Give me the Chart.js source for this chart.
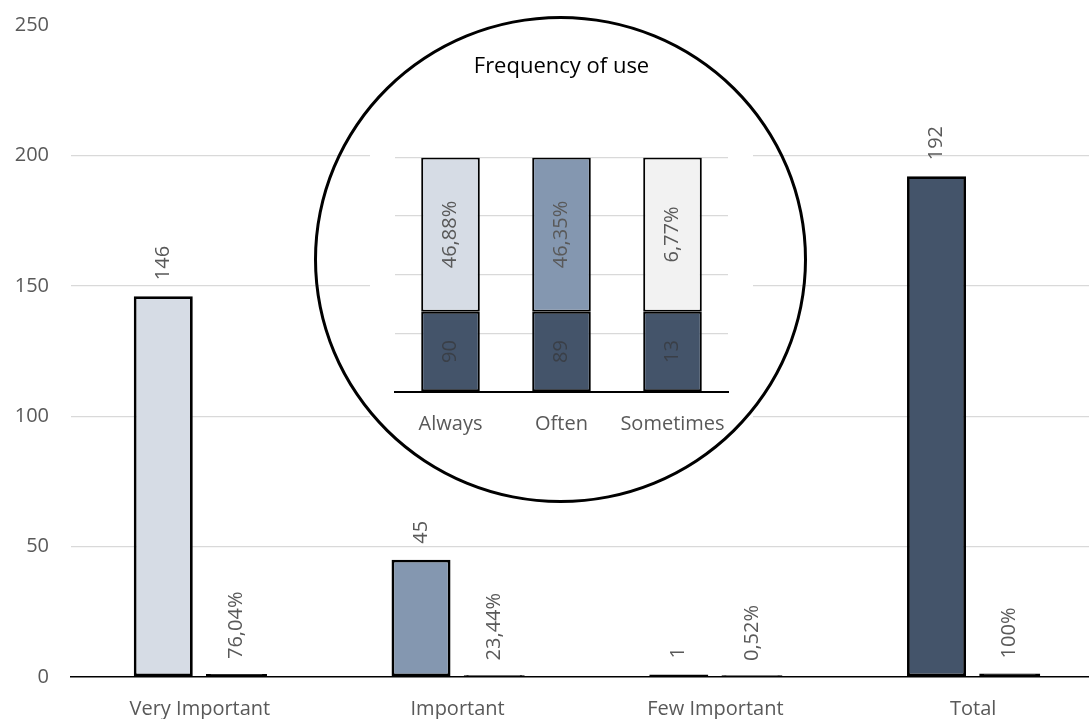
<!DOCTYPE html>
<html>
<head>
<meta charset="utf-8">
<script src="https://cdn.jsdelivr.net/npm/chart.js@4.4.1/dist/chart.umd.min.js"></script>
<style>
  html, body { margin: 0; padding: 0; background: #fff; overflow: hidden; width: 1089px; height: 719px; }
  #main { position: absolute; left: 0; top: 0; }
  #inset { position: absolute; left: 370px; top: 30px; background: #fff; }
  #ring {
    position: absolute; left: 314px; top: 16px; width: 493px; height: 487px;
    border: 3px solid #000; border-radius: 50%; box-sizing: border-box; pointer-events: none;
  }
</style>
</head>
<body>
<canvas id="main" width="1102" height="719"></canvas>
<canvas id="inset" width="383" height="430"></canvas>
<div id="ring"></div>
<script>
// Importance of the service: respondents per answer and their share of the total
const categories = ['Very Important', 'Important', 'Few Important', 'Total'];
const counts = [146, 45, 1, 192];
const shares = [0.7604, 0.2344, 0.0052, 1.0];
const yTicks = [0, 50, 100, 150, 200, 250];
const countColors = ['#d6dce5', '#8497b0', '#f2f2f2', '#44546a'];

// Frequency of use (inset)
const freqCategories = ['Always', 'Often', 'Sometimes'];
const freqCounts = [90, 89, 13];
const freqShares = [46.88, 46.35, 6.77];
const freqColors = ['#d6dce5', '#8497b0', '#f2f2f2'];

const FONT = "'Open Sans', 'DejaVu Sans', sans-serif";
Chart.defaults.font.family = FONT;

function fmtPct(v) {
  const p = Math.round(v * 10000) / 100;
  return (Number.isInteger(p) ? String(p) : p.toFixed(2).replace('.', ',')) + '%';
}
function fmtPlain(p) {
  return p.toFixed(2).replace('.', ',') + '%';
}

// Rotated value labels above each bar
const valueLabels = {
  id: 'valueLabels',
  afterDatasetsDraw(chart) {
    const ctx = chart.ctx;
    ctx.save();
    ctx.fillStyle = '#595959';
    ctx.font = '20px ' + FONT;
    chart.data.datasets.forEach((ds, di) => {
      chart.getDatasetMeta(di).data.forEach((el, i) => {
        const txt = di === 0 ? String(counts[i]) : fmtPct(shares[i]);
        ctx.save();
        ctx.translate(el.x, el.y - 16);
        ctx.rotate(-Math.PI / 2);
        ctx.textAlign = 'left';
        ctx.textBaseline = 'middle';
        ctx.fillText(txt, 0, 0);
        ctx.restore();
      });
    });
    ctx.restore();
  }
};

new Chart(document.getElementById('main'), {
  type: 'bar',
  data: {
    labels: categories,
    datasets: [
      { data: counts, backgroundColor: countColors, borderColor: '#000', borderWidth: 2.8,
        borderSkipped: false, categoryPercentage: 0.568, barPercentage: 0.806 },
      { data: shares, backgroundColor: '#000', borderColor: '#000', borderWidth: 2.8,
        borderSkipped: false, inflateAmount: 1, categoryPercentage: 0.568, barPercentage: 0.806 }
    ]
  },
  options: {
    responsive: false,
    animation: false,
    layout: { padding: { top: 25, left: 0, right: 0, bottom: 0 } },
    plugins: { legend: { display: false }, tooltip: { enabled: false } },
    scales: {
      x: {
        grid: { display: false },
        border: { color: '#000', width: 1.5 },
        ticks: { color: '#595959', font: { size: 20 }, padding: 12 },
        afterFit(s) { s.height = 42; }
      },
      y: {
        min: 0, max: 250,
        afterBuildTicks(s) { s.ticks = yTicks.map(v => ({ value: v })); },
        grid: {
          color: c => (c.tick && (c.tick.value === 250 || c.tick.value === 0)) ? 'rgba(0,0,0,0)' : '#d9d9d9',
          lineWidth: 1.3, drawTicks: false
        },
        border: { display: false },
        ticks: { color: '#595959', font: { size: 20 }, padding: 22 },
        afterFit(s) { s.width = 71; s.paddingTop = 0; s.paddingBottom = 0; }
      }
    }
  },
  plugins: [valueLabels]
});

// Inset: each bar split into the two parts of the row
const freqLower = freqCounts.map((c, i) => 100 * freqShares[i] / (freqShares[i] + c));
const freqUpper = freqLower.map(v => 100 - v);

const segmentLabels = {
  id: 'segmentLabels',
  afterDatasetsDraw(chart) {
    const ctx = chart.ctx;
    ctx.save();
    ctx.font = '20px ' + FONT;
    chart.data.datasets.forEach((ds, di) => {
      chart.getDatasetMeta(di).data.forEach((el, i) => {
        const txt = di === 0 ? String(freqCounts[i]) : fmtPlain(freqShares[i]);
        ctx.fillStyle = di === 0 ? '#3a3f47' : '#595959';
        ctx.save();
        ctx.translate(el.x, (el.y + el.base) / 2);
        ctx.rotate(-Math.PI / 2);
        ctx.textAlign = 'center';
        ctx.textBaseline = 'middle';
        ctx.fillText(txt, 0, 0);
        ctx.restore();
      });
    });
    ctx.restore();
  }
};

new Chart(document.getElementById('inset'), {
  type: 'bar',
  data: {
    labels: freqCategories,
    datasets: [
      { data: freqLower, backgroundColor: '#44546a', borderColor: '#000', borderWidth: 2,
        borderSkipped: false, categoryPercentage: 0.8, barPercentage: 0.66 },
      { data: freqUpper, backgroundColor: freqColors, borderColor: '#000', borderWidth: 2,
        borderSkipped: false, categoryPercentage: 0.8, barPercentage: 0.66 }
    ]
  },
  options: {
    responsive: false,
    animation: false,
    layout: { padding: { left: 25, right: 25, top: 0, bottom: 0 } },
    plugins: {
      legend: { display: false },
      tooltip: { enabled: false },
      title: {
        display: true, text: 'Frequency of use', color: '#000',
        font: { size: 22, weight: 'normal' }, padding: { top: 24, bottom: 77 }
      }
    },
    scales: {
      x: {
        stacked: true,
        grid: { display: false },
        border: { color: '#000', width: 2 },
        ticks: { color: '#595959', font: { size: 20 }, padding: 12 },
        afterFit(s) { s.height = 68; }
      },
      y: {
        stacked: true, min: 0, max: 100,
        ticks: { display: false, stepSize: 25 },
        grid: { color: c => (c.tick && c.tick.value === 0) ? 'rgba(0,0,0,0)' : '#d9d9d9', lineWidth: 1.3, drawTicks: false },
        border: { display: false },
        afterFit(s) { s.width = 0; }
      }
    }
  },
  plugins: [segmentLabels]
});
</script>
</body>
</html>
